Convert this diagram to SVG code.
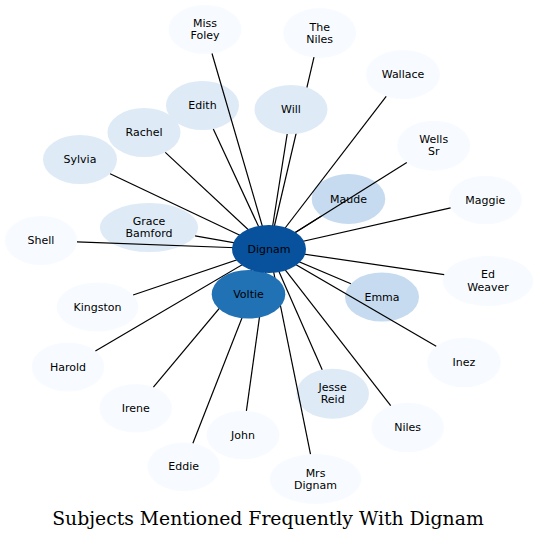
<svg xmlns="http://www.w3.org/2000/svg" width="538" height="540" viewBox="0 0 538 540">
<style>
.n0{fill:#f7fbff}
.n1{fill:#deebf7}
.n2{fill:#c6dbef}
.n3{fill:#2171b5}
.n4{fill:#08519c}
text{font-family:"DejaVu Sans","Liberation Sans",sans-serif;font-size:11px;fill:#000;text-anchor:middle}
.edges line{stroke:#000;stroke-width:1.2;fill:none}
.title{font-family:"DejaVu Serif","Liberation Serif",serif;font-size:18.8px}
</style>
<rect width="538" height="540" fill="#fff"/>
<g id="miss-foley"><ellipse class="n0" cx="205" cy="29.5" rx="36.5" ry="24.5"/><text x="205" y="27">Miss</text><text x="205" y="39">Foley</text></g>
<g id="the-niles"><ellipse class="n0" cx="319.7" cy="33" rx="36.5" ry="25"/><text x="319.7" y="30.5">The</text><text x="319.7" y="42.5">Niles</text></g>
<g id="edith"><ellipse class="n1" cx="202.5" cy="105.5" rx="36.5" ry="24.5"/><text x="202.5" y="109">Edith</text></g>
<g id="wallace"><ellipse class="n0" cx="403" cy="74.5" rx="37" ry="24.5"/><text x="403" y="78">Wallace</text></g>
<g id="rachel"><ellipse class="n1" cx="144" cy="132.5" rx="36.5" ry="24.5"/><text x="144" y="136">Rachel</text></g>
<g id="wells-sr"><ellipse class="n0" cx="433.7" cy="145.7" rx="36.5" ry="25"/><text x="433.7" y="143.2">Wells</text><text x="433.7" y="155.2">Sr</text></g>
<g id="sylvia"><ellipse class="n1" cx="80" cy="159.5" rx="37" ry="24.5"/><text x="80" y="163">Sylvia</text></g>
<g id="maude"><ellipse class="n2" cx="348.5" cy="199" rx="36.8" ry="25"/><text x="348.5" y="202.5">Maude</text></g>
<g id="maggie"><ellipse class="n0" cx="485.3" cy="200" rx="36.7" ry="24.3"/><text x="485.3" y="203.5">Maggie</text></g>
<g id="grace-bamford"><ellipse class="n1" cx="149" cy="227.5" rx="49" ry="24.5"/><text x="149" y="225">Grace</text><text x="149" y="237">Bamford</text></g>
<g id="shell"><ellipse class="n0" cx="41" cy="240.5" rx="36" ry="24.5"/><text x="41" y="244">Shell</text></g>
<g id="ed-weaver"><ellipse class="n0" cx="488" cy="281" rx="45.3" ry="25"/><text x="488" y="278">Ed</text><text x="488" y="290.5">Weaver</text></g>
<g id="emma"><ellipse class="n2" cx="382" cy="297" rx="37" ry="24.5"/><text x="382" y="300.5">Emma</text></g>
<g id="kingston"><ellipse class="n0" cx="97.5" cy="307" rx="40.8" ry="24.5"/><text x="97.5" y="310.5">Kingston</text></g>
<g id="harold"><ellipse class="n0" cx="68" cy="367" rx="36.3" ry="24.5"/><text x="68" y="370.5">Harold</text></g>
<g id="inez"><ellipse class="n0" cx="464" cy="362.5" rx="36.7" ry="24.8"/><text x="464" y="366">Inez</text></g>
<g id="jesse-reid"><ellipse class="n1" cx="332.7" cy="393.7" rx="36.3" ry="25"/><text x="332.7" y="391.2">Jesse</text><text x="332.7" y="403.2">Reid</text></g>
<g id="irene"><ellipse class="n0" cx="135.7" cy="408.3" rx="36.3" ry="24.3"/><text x="135.7" y="411.8">Irene</text></g>
<g id="niles"><ellipse class="n0" cx="407.7" cy="427.5" rx="36.3" ry="24.8"/><text x="407.7" y="431">Niles</text></g>
<g id="john"><ellipse class="n0" cx="243" cy="435" rx="36.5" ry="24.3"/><text x="243" y="438.5">John</text></g>
<g id="eddie"><ellipse class="n0" cx="183.7" cy="466.7" rx="36.3" ry="24.3"/><text x="183.7" y="470.2">Eddie</text></g>
<g id="mrs-dignam"><ellipse class="n0" cx="315.5" cy="479" rx="45.8" ry="25"/><text x="315.5" y="476.5">Mrs</text><text x="315.5" y="488.5">Dignam</text></g>
<g id="connectors" class="edges">
<line x1="269" y1="249" x2="212" y2="53.5"/>
<line x1="269" y1="249" x2="314" y2="57.2"/>
<line x1="269" y1="249" x2="213.3" y2="128.9"/>
<line x1="269" y1="249" x2="287.2" y2="133.9"/>
<line x1="269" y1="249" x2="386.2" y2="96.3"/>
<line x1="269" y1="249" x2="165.3" y2="152.4"/>
<line x1="269" y1="249" x2="406.8" y2="162.6"/>
<line x1="269" y1="249" x2="110.1" y2="173.8"/>
<line x1="269" y1="249" x2="321.5" y2="216"/>
<line x1="269" y1="249" x2="450.6" y2="207.9"/>
<line x1="269" y1="249" x2="195.1" y2="235.8"/>
<line x1="269" y1="249" x2="77" y2="241.8"/>
<line x1="269" y1="249" x2="444.2" y2="274.6"/>
<line x1="269" y1="249" x2="350.9" y2="283.8"/>
<line x1="269" y1="249" x2="133.1" y2="295"/>
<line x1="258.6" y1="272" x2="259" y2="271"/>
<line x1="269" y1="249" x2="95.4" y2="350.9"/>
<line x1="269" y1="249" x2="436.2" y2="346.3"/>
<line x1="269" y1="249" x2="322.2" y2="369.8"/>
<line x1="269" y1="249" x2="153.4" y2="387.1"/>
<line x1="269" y1="249" x2="390.7" y2="405.6"/>
<line x1="269" y1="249" x2="246.4" y2="410.8"/>
<line x1="269" y1="249" x2="192.9" y2="443.2"/>
<line x1="269" y1="249" x2="310.5" y2="454.2"/>
</g>
<g id="will"><ellipse class="n1" cx="291" cy="109.5" rx="36.5" ry="24.5"/><text x="291" y="113">Will</text></g>
<g id="voltie"><ellipse class="n3" cx="248.5" cy="294.3" rx="36.8" ry="24.3"/><text x="248.5" y="297.8">Voltie</text></g>
<g id="dignam"><ellipse class="n4" cx="269" cy="249" rx="37" ry="24"/><text x="269" y="252.5">Dignam</text></g>
<text class="title" x="268" y="525">Subjects Mentioned Frequently With Dignam</text>
</svg>
